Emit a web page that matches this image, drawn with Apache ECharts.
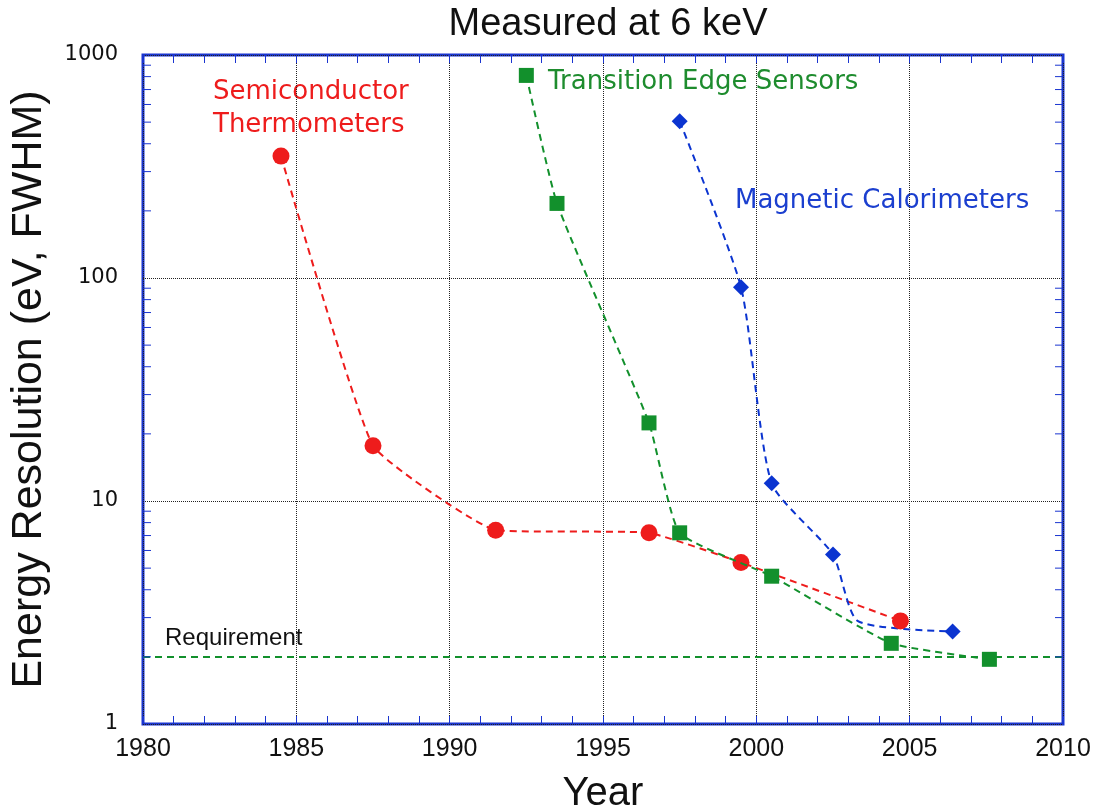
<!DOCTYPE html>
<html>
<head>
<meta charset="utf-8">
<script src="https://cdn.jsdelivr.net/npm/echarts@6/dist/echarts.min.js"></script>
<style>
html, body { margin: 0; padding: 0; background: #fff; }
#chart { width: 1097px; height: 810px; }
</style>
</head>
<body>
<div id="chart"></div>
<script>
// values
const yearTicks = [1980, 1985, 1990, 1995, 2000, 2005, 2010];
const resolutionTicks = [1, 10, 100, 1000];
const minorResolution = [2, 3, 4, 5, 6, 7, 8, 9, 20, 30, 40, 50, 60, 70, 80, 90, 200, 300, 400, 500, 600, 700, 800, 900];

const semiYears = [1984.5, 1987.5, 1991.5, 1996.5, 1999.5, 2004.7];
const semiValues = [352, 17.7, 7.4, 7.2, 5.3, 2.9];

const tesYears = [1992.5, 1993.5, 1996.5, 1997.5, 2000.5, 2004.4, 2007.6];
const tesValues = [810, 216, 22.4, 7.2, 4.6, 2.3, 1.95];

const mmcYears = [1997.5, 1999.5, 2000.5, 2002.5, 2003.3, 2006.4];
const mmcValues = [505, 91, 12, 5.75, 2.9, 2.6];
const mmcMarked = [true, true, true, true, false, true];

const requirement = 2;

const RED = "#ee1c1c";
const GREEN = "#12902c";
const BLUE = "#0b34d0";
const FRAME = "#1a35d0";

const chart = echarts.init(document.getElementById("chart"));

function pairs(xs, ys) {
	return xs.map((x, i) => [x, ys[i]]);
}

chart.setOption({
	animation: false,
	title: {
		text: "Measured at 6 keV",
		left: 603,
		textAlign: "center",
		top: 1,
		textStyle: {
			fontFamily: "Liberation Sans",
			fontSize: 38,
			fontWeight: "normal",
			color: "#111"
		}
	},
	grid: {
		left: 143,
		right: 34,
		top: 55,
		bottom: 86,
		outerBoundsMode: "none",
		containLabel: false,
		show: true,
		borderColor: FRAME,
		borderWidth: 3
	},
	xAxis: [
		{
			type: "value",
			min: yearTicks[0],
			max: yearTicks[yearTicks.length - 1],
			interval: 5,
			name: "Year",
			nameLocation: "middle",
			nameGap: 50,
			nameTextStyle: {
				fontFamily: "Liberation Sans",
				fontSize: 40,
				color: "#111"
			},
			axisLine: { show: false },
			axisTick: { show: true, inside: true, length: 8, lineStyle: { color: FRAME } },
			minorTick: { show: true, splitNumber: 5, length: 8, lineStyle: { color: FRAME } },
			axisLabel: {
				margin: 13,
				fontFamily: "Liberation Sans",
				fontSize: 25,
				color: "#111",
				formatter: v => String(v)
			},
			splitLine: { show: true, lineStyle: { type: "dotted", color: "#222", width: 1 } }
		},
		{
			type: "value",
			position: "top",
			min: yearTicks[0],
			max: yearTicks[yearTicks.length - 1],
			interval: 5,
			axisLine: { show: false },
			axisTick: { show: true, inside: true, length: 8, lineStyle: { color: FRAME } },
			minorTick: { show: true, splitNumber: 5, length: 8, lineStyle: { color: FRAME } },
			axisLabel: { show: false },
			splitLine: { show: false }
		}
	],
	yAxis: {
		type: "log",
		logBase: 10,
		min: resolutionTicks[0],
		max: resolutionTicks[resolutionTicks.length - 1],
		name: "Energy Resolution (eV, FWHM)",
		nameLocation: "middle",
		nameGap: 92,
		nameTextStyle: {
			fontFamily: "Liberation Sans",
			fontSize: 43,
			color: "#111"
		},
		axisLine: { show: false },
		axisTick: { show: false },
		axisLabel: {
			margin: 25,
			fontFamily: "DejaVu Sans",
			fontSize: 21,
			color: "#111",
			formatter: v => String(v)
		},
		splitLine: { show: true, lineStyle: { type: "dotted", color: "#222", width: 1 } }
	},
	graphic: [
		{
			type: "text",
			left: 213,
			top: 76,
			style: {
				text: "Semiconductor\nThermometers",
				fill: RED,
				font: "26px 'DejaVu Sans'",
				lineHeight: 33
			}
		},
		{
			type: "text",
			left: 548,
			top: 69,
			style: {
				text: "Transition Edge Sensors",
				fill: "#1e8c2e",
				font: "26px 'DejaVu Sans'"
			}
		},
		{
			type: "text",
			left: 735,
			top: 188,
			style: {
				text: "Magnetic Calorimeters",
				fill: "#1b3fcf",
				font: "26px 'DejaVu Sans'"
			}
		}
	],
	series: [
		{
			// small ticks on both sides of the log axis
			type: "custom",
			silent: true,
			clip: false,
			z: 5,
			data: minorResolution.map(v => [yearTicks[0], v]),
			renderItem(params, api) {
				const cs = params.coordSys;
				const y = api.coord([yearTicks[0], api.value(1)])[1];
				const style = { stroke: FRAME, lineWidth: 1 };
				return {
					type: "group",
					children: [
						{ type: "line", shape: { x1: cs.x, y1: y, x2: cs.x + 8, y2: y }, style },
						{ type: "line", shape: { x1: cs.x + cs.width - 8, y1: y, x2: cs.x + cs.width, y2: y }, style }
					]
				};
			}
		},
		{
			name: "Semiconductor Thermometers",
			type: "line",
			smooth: 0.12,
			symbol: "circle",
			symbolSize: 17,
			itemStyle: { color: RED },
			lineStyle: { color: RED, width: 2, type: [7, 5] },
			data: pairs(semiYears, semiValues),
			z: 3
		},
		{
			name: "Transition Edge Sensors",
			type: "line",
			smooth: 0.15,
			symbol: "rect",
			symbolSize: 15,
			itemStyle: { color: GREEN },
			lineStyle: { color: GREEN, width: 2, type: [7, 5] },
			data: pairs(tesYears, tesValues),
			z: 4,
			markLine: {
				silent: true,
				symbol: "none",
				lineStyle: { color: GREEN, width: 2, type: [7, 5] },
				label: {
					show: true,
					position: "insideStartTop",
					formatter: "Requirement",
					color: "#111",
					fontFamily: "Liberation Sans",
					fontSize: 24,
					distance: [22, 6]
				},
				data: [{ yAxis: requirement }]
			}
		},
		{
			name: "Magnetic Calorimeters",
			type: "line",
			smooth: 0.2,
			symbol: "diamond",
			symbolSize: 16,
			itemStyle: { color: BLUE },
			lineStyle: { color: BLUE, width: 2, type: [7, 5] },
			data: mmcYears.map((x, i) => mmcMarked[i]
				? [x, mmcValues[i]]
				: { value: [x, mmcValues[i]], symbol: "none" }),
			z: 3
		}
	]
});
</script>
</body>
</html>
